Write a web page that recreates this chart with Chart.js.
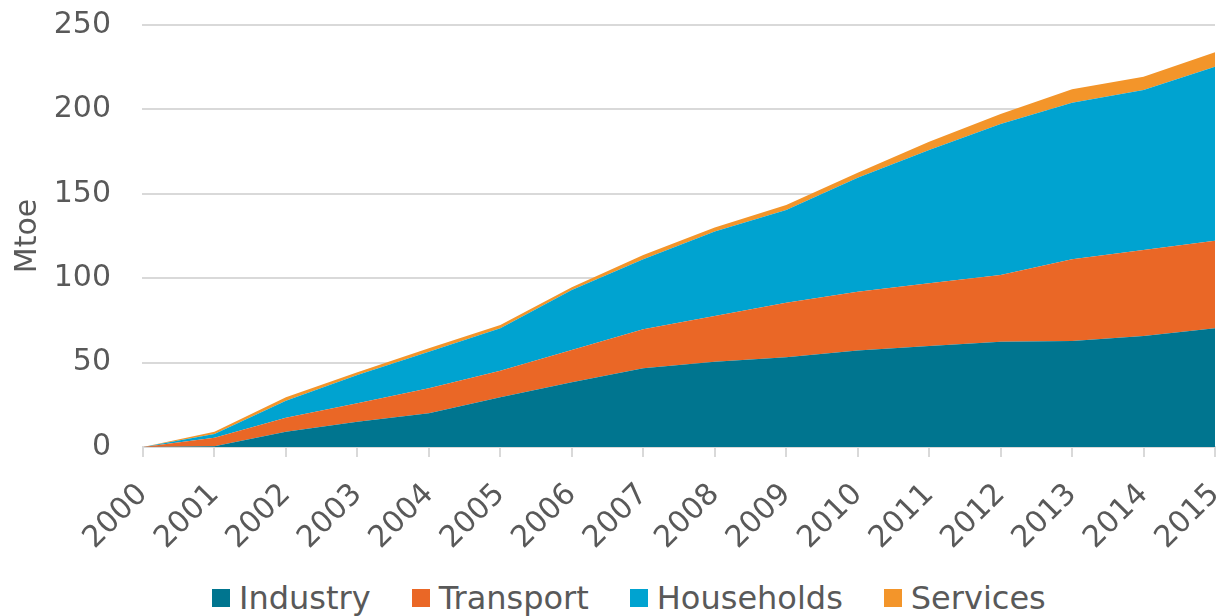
<!DOCTYPE html>
<html>
<head>
<meta charset="utf-8">
<script src="https://cdn.jsdelivr.net/npm/chart.js@4/dist/chart.umd.min.js"></script>
<style>
    body { margin: 0; background: #fff; font-family: "DejaVu Sans", Verdana, sans-serif; }
    #wrap { position: relative; width: 1220px; height: 616px; overflow: hidden; }
    #chartBox { position: absolute; left: 0; top: 0; width: 1220px; height: 565px; }
    #legend { position: absolute; left: 212px; top: 580px; display: flex; gap: 41px; color: #595959; font-size: 32px; line-height: 36px; }
    #legend .item { display: flex; align-items: center; }
    #legend .box { width: 18px; height: 18px; margin-right: 9px; }
</style>
</head>
<body>
<div id="wrap">
    <div id="chartBox"><canvas id="areaChart"></canvas></div>
    <div id="legend"></div>
</div>
<script>
// Chart data (Mtoe)
const years = ["2000", "2001", "2002", "2003", "2004", "2005", "2006", "2007",
               "2008", "2009", "2010", "2011", "2012", "2013", "2014", "2015"];
const industry   = [0, 0.5, 9.1, 15.0, 20.0, 29.4, 38.3, 46.6, 50.5, 53.1, 57.1, 59.8, 62.4, 62.8, 65.8, 70.3];
const transport  = [0, 5.0, 8.3, 10.9, 14.8, 15.8, 19.2, 23.1, 27.1, 32.4, 34.9, 37.2, 39.5, 48.4, 50.9, 51.9];
const households = [0, 2.2, 10.0, 16.8, 21.7, 25.1, 35.5, 41.5, 50.0, 54.9, 67.5, 78.9, 89.5, 92.8, 94.8, 103.1];
const services   = [0, 1.4, 2.0, 1.6, 2.0, 2.0, 1.6, 2.5, 2.5, 3.0, 3.0, 5.0, 5.9, 7.9, 7.9, 8.5];
const yTicks = [0, 50, 100, 150, 200, 250];

const seriesNames  = ["Industry", "Transport", "Households", "Services"];
const seriesData   = [industry, transport, households, services];
const seriesColors = ["#00758F", "#EA6726", "#00A3D0", "#F3952A"];

const textColor = "#595959";
const gridColor = "#D9D9D9";
const fontFamily = "'DejaVu Sans', Verdana, sans-serif";

// Build the legend under the chart
function buildLegend() {
    const legend = document.getElementById("legend");
    seriesNames.forEach((name, i) => {
        const item = document.createElement("div");
        item.className = "item";
        item.innerHTML = `<span class="box" style="background:${seriesColors[i]}"></span><span>${name}</span>`;
        legend.appendChild(item);
    });
}

// Stacked area chart
function renderChart() {
    const datasets = seriesNames.map((name, i) => ({
        label: name,
        data: seriesData[i],
        backgroundColor: seriesColors[i],
        borderColor: seriesColors[i],
        borderWidth: 0,
        pointRadius: 0,
        tension: 0,
        fill: i === 0 ? "origin" : "-1"
    }));

    new Chart(document.getElementById("areaChart"), {
        type: "line",
        data: { labels: years, datasets: datasets },
        options: {
            responsive: true,
            maintainAspectRatio: false,
            animation: false,
            layout: { padding: { top: 25, right: 5 } },
            plugins: {
                legend: { display: false },
                tooltip: { enabled: false }
            },
            scales: {
                x: {
                    offset: false,
                    grid: { drawOnChartArea: false, drawTicks: true, tickLength: 10, color: gridColor, lineWidth: 2 },
                    border: { display: true, color: gridColor, width: 2 },
                    ticks: {
                        color: textColor,
                        font: { family: fontFamily, size: 30 },
                        minRotation: 45,
                        maxRotation: 45,
                        autoSkip: false,
                        padding: 20
                    },
                    afterFit: axis => {
                        axis.paddingRight = 0;
                        axis.height = 565 - 447;
                    }
                },
                y: {
                    stacked: true,
                    min: 0,
                    max: 250,
                    afterBuildTicks: axis => { axis.ticks = yTicks.map(v => ({ value: v })); },
                    afterFit: axis => {
                        axis.width = 143;
                        axis.paddingTop = 0;
                        axis.paddingBottom = 0;
                    },
                    grid: { color: gridColor, lineWidth: 2, tickLength: 1 },
                    border: { display: false },
                    ticks: {
                        color: textColor,
                        font: { family: fontFamily, size: 30 },
                        padding: 31
                    },
                    title: {
                        display: true,
                        text: "Mtoe",
                        color: textColor,
                        font: { family: fontFamily, size: 30 },
                        padding: { top: 10, bottom: 0 }
                    }
                }
            }
        }
    });
}

buildLegend();
renderChart();
</script>
</body>
</html>
